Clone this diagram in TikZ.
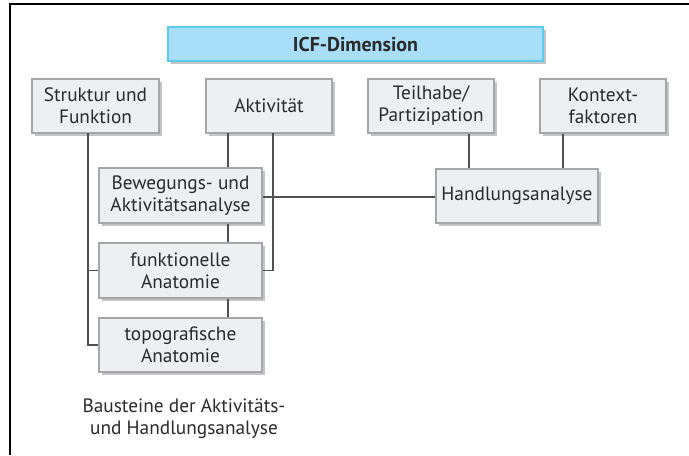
\documentclass[tikz,border=0pt]{standalone}
\usepackage{fontspec}
\setmainfont{PT Sans}
\usetikzlibrary{shadows}
\definecolor{boxfill}{HTML}{EEEFF1}
\definecolor{boxdraw}{HTML}{A6A6A8}
\definecolor{shadowc}{HTML}{C4C4C4}
\definecolor{icffill}{HTML}{A8DEF8}
\definecolor{icfdraw}{HTML}{5BCBF0}
\definecolor{linec}{HTML}{505050}
\definecolor{textc}{HTML}{2A2A2A}
\tikzset{
  box/.style={draw=boxdraw, fill=boxfill, line width=0.8pt, rectangle, align=center,
    inner sep=0pt, text=textc, font=\fontsize{14.5}{16.5}\selectfont,
    drop shadow={shadow xshift=2pt, shadow yshift=-2pt, fill=shadowc, opacity=1}},
  icfbox/.style={box, draw=icfdraw, fill=icffill, font=\bfseries\fontsize{15}{16.5}\selectfont},
  conn/.style={draw=linec, line width=0.8pt},
}
\begin{document}
\begin{tikzpicture}[x=0.75pt,y=-0.75pt]
\useasboundingbox (0,0) rectangle (689,455);
\draw[line width=1pt] (10,455) -- (10,4) -- (689,4);

\node[icfbox, minimum width=375*0.75pt, minimum height=34*0.75pt] (icf) at (355.5,44) {ICF-Dimension};

\node[box, minimum width=127*0.75pt, minimum height=54*0.75pt] (struk) at (95.5,106) {Struktur und\\Funktion};
\node[box, minimum width=126*0.75pt, minimum height=54*0.75pt] (akt) at (269,106) {Aktivität};
\node[box, minimum width=126*0.75pt, minimum height=54*0.75pt] (teil) at (431,106) {Teilhabe/\\Partizipation};
\node[box, minimum width=126*0.75pt, minimum height=54*0.75pt] (kon) at (603,106) {Kontext-\\faktoren};

\node[box, minimum width=163*0.75pt, minimum height=55*0.75pt] (bew) at (180.5,195.5) {Bewegungs- und\\Aktivitätsanalyse};
\node[box, minimum width=163*0.75pt, minimum height=55*0.75pt] (funk) at (180.5,270.5) {funktionelle\\Anatomie};
\node[box, minimum width=163*0.75pt, minimum height=54*0.75pt] (topo) at (180.5,345) {topografische\\Anatomie};
\node[box, minimum width=162*0.75pt, minimum height=54*0.75pt] (hand) at (517,196) {Handlungsanalyse};

\node[align=center, text=textc, font=\fontsize{14.5}{16.5}\selectfont] (cap) at (184,418.5) {Bausteine der Aktivitäts-\\und Handlungsanalyse};

% connectors
\coordinate (sk) at (88,133);
\draw[conn] (sk) |- (topo.west);
\draw[conn] (88,270.5) -- (funk.west);
\draw[conn] (228,133) -- (bew.north -| 228,0);
\draw[conn] (273,133) |- (funk.east);
\draw[conn] (bew.south -| 228,0) -- (funk.north -| 228,0);
\draw[conn] (funk.south -| 228,0) -- (topo.north -| 228,0);
\draw[conn] (bew.east |- 0,197) -- (hand.west |- 0,197);
\draw[conn] (teil.south -| 469,0) -- (hand.north -| 469,0);
\draw[conn] (kon.south -| 563,0) -- (hand.north -| 563,0);
\end{tikzpicture}
\end{document}
